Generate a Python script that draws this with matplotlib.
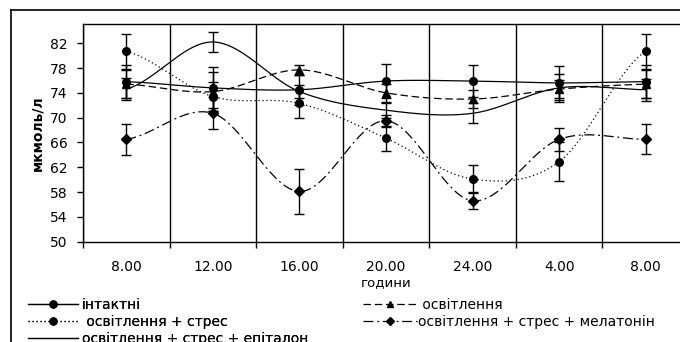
import numpy as np
import matplotlib
matplotlib.use('Agg')
import matplotlib.pyplot as plt
from matplotlib.lines import Line2D

plt.rcParams['font.family'] = ['DejaVu Sans']

hours = ['8.00', '12.00', '16.00', '20.00', '24.00', '4.00', '8.00']

intact = [75.8, 74.8, 74.5, 75.9, 75.9, 75.6, 75.8]
intact_err = [2.7, 3.3, 2.4, 2.7, 2.6, 2.7, 2.7]
light = [75.4, 74.2, 77.7, 74.0, 73.0, 74.6, 75.4]
light_err = [2.3, 3.2, 0.8, 1.5, 1.5, 1.5, 2.3]
stress = [80.7, 73.4, 72.3, 66.7, 60.1, 62.9, 80.7]
stress_err = [2.8, 2.4, 2.3, 2.0, 2.2, 3.1, 2.8]
melatonin = [66.5, 70.7, 58.1, 69.5, 56.6, 66.5, 66.5]
melatonin_err = [2.5, 2.6, 3.6, 1.0, 1.4, 1.8, 2.4]
epitalon = [74.6, 82.2, 74.2, 71.2, 70.7, 74.8, 74.5]
epitalon_err = [1.8, 1.6, 1.0, 1.2, 1.6, 2.2, 1.8]


def smooth(y, n=40):
    # Excel-like smoothed line (Catmull-Rom through the points)
    y = np.asarray(y, float)
    x = np.arange(len(y), dtype=float)
    ext = np.concatenate([[y[0]], y, [y[-1]]])
    xs, ys = [], []
    for i in range(len(y) - 1):
        p0, p1, p2, p3 = ext[i], ext[i + 1], ext[i + 2], ext[i + 3]
        m1 = (p2 - p0) / 2
        m2 = (p3 - p1) / 2
        t = np.linspace(0, 1, n)
        h00 = 2 * t**3 - 3 * t**2 + 1
        h10 = t**3 - 2 * t**2 + t
        h01 = -2 * t**3 + 3 * t**2
        h11 = t**3 - t**2
        xs.append(x[i] + t)
        ys.append(h00 * p1 + h10 * m1 + h01 * p2 + h11 * m2)
    return np.concatenate(xs), np.concatenate(ys)


fig = plt.figure(figsize=(6.8, 3.42), dpi=100)
ax = fig.add_axes([83 / 680, 1 - 241.7 / 342, 606 / 680, 217.4 / 342])

x = np.arange(len(hours))
series = [
    (intact, intact_err, '-', 'o', 'інтактні'),
    (stress, stress_err, (0, (1, 2.2)), 'o', ' освітлення + стрес'),
    (epitalon, epitalon_err, '-', None, 'освітлення + стрес + епіталон'),
    (light, light_err, (0, (6, 3)), '^', ' освітлення'),
    (melatonin, melatonin_err, (0, (8, 3, 1.5, 3)), 'D', 'освітлення + стрес + мелатонін'),
]

handles = []
for vals, err, ls, mk, name in series:
    sx, sy = smooth(vals)
    ax.plot(sx, sy, color='black', lw=0.9, ls=ls, zorder=3)
    ax.errorbar(x, vals, yerr=err, fmt='none', ecolor='black', elinewidth=1,
                capsize=3.5, capthick=1, zorder=4)
    if mk:
        ms = 5 if mk == 'D' else 5.5
        ax.plot(x, vals, ls='none', marker=mk, ms=ms, color='black', zorder=5)
    handles.append(Line2D([], [], color='black', lw=0.9, ls=ls, marker=mk,
                          ms=4.5 if mk == 'D' else 5, label=name))

ax.set_xlim(-0.5, 6.5)
ax.set_ylim(50, 85.05)
ax.set_yticks(np.arange(50, 83, 4))
ax.set_xticks(np.arange(-0.5, 7, 1))
ax.set_xticklabels([])
ax.set_xticks(x, minor=True)
ax.set_xticklabels(hours, minor=True)
ax.tick_params(axis='x', which='minor', length=0, pad=13, labelsize=10)
ax.tick_params(axis='x', which='major', direction='out', length=4, width=1)
ax.tick_params(axis='y', direction='out', length=4, width=1, labelsize=10, pad=7)
ax.grid(axis='x', which='major', color='black', lw=1)
for s in ax.spines.values():
    s.set_linewidth(1)

ax.set_ylabel('мкмоль/л', fontsize=10, fontweight='bold', labelpad=4)
ax.set_xlabel('години', fontsize=9.5, labelpad=2)

# outer chart border (right and bottom parts are cut off)
fig.add_artist(Line2D([11 / 680, 11 / 680], [0, 1 - 10 / 342], color='black', lw=1.2))
fig.add_artist(Line2D([11 / 680, 1], [1 - 10 / 342, 1 - 10 / 342], color='black', lw=1.2))

leg1 = fig.legend(handles=handles[:3], loc='upper left', bbox_to_anchor=(28 / 680, 1 - 298 / 342),
                  frameon=False, fontsize=10, handlelength=3.6, handletextpad=0.3,
                  labelspacing=0.22, borderaxespad=0, borderpad=0)
fig.legend(handles=handles[3:], loc='upper left', bbox_to_anchor=(363 / 680, 1 - 298 / 342),
           frameon=False, fontsize=10, handlelength=3.9, handletextpad=0.07,
           labelspacing=0.22, borderaxespad=0, borderpad=0)
fig.add_artist(leg1)

fig.savefig('out.png', dpi=100)
